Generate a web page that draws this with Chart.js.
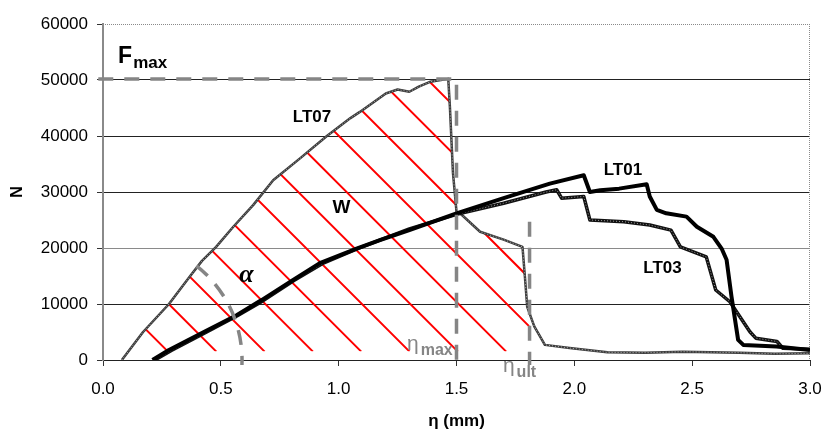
<!DOCTYPE html>
<html>
<head>
<meta charset="utf-8">
<script src="https://cdn.jsdelivr.net/npm/chart.js@4.4.0/dist/chart.umd.min.js"></script>
<style>
  html, body { margin: 0; padding: 0; background: #fff; }
</style>
</head>
<body>
<canvas id="line-chartcanvas" width="824" height="432"></canvas>
<script>
// load / displacement curves, eta in mm and N
var lt07X = [0.08, 0.17, 0.28, 0.37, 0.42, 0.48, 0.553, 0.638, 0.722, 0.836, 0.95, 1.05, 1.09, 1.20, 1.25, 1.30, 1.34, 1.39, 1.465,
             1.472, 1.485, 1.50, 1.515, 1.60, 1.70, 1.78, 1.79, 1.80, 1.83, 1.875, 1.98, 2.14, 2.30, 2.46, 2.70, 2.85, 3.0];
var lt07Y = [0, 5000, 10000, 15000, 17700, 20200, 23800, 27700, 32100, 36000, 40000, 43200, 44300, 47600, 48300, 47900, 48800, 49700, 50200,
             45200, 33400, 26500, 26200, 22900, 21500, 20200, 15000, 9500, 6000, 2700, 2140, 1370, 1300, 1480, 1300, 1100, 1200];

var lt01X = [0.21, 0.28, 0.43, 0.567, 0.673, 0.807, 0.92, 1.076, 1.175, 1.30, 1.50, 1.70, 1.896, 2.04, 2.066, 2.11, 2.19, 2.307,
             2.32, 2.35, 2.39, 2.476, 2.52, 2.59, 2.625, 2.646, 2.667, 2.695, 2.717, 2.858, 3.0];
var lt01Y = [0, 1800, 5060, 8000, 10700, 14300, 17300, 19900, 21400, 23200, 26200, 28900, 31500, 33000, 30000, 30300, 30600, 31400,
             29200, 26800, 26200, 25600, 23800, 22000, 19900, 17900, 11300, 3600, 2700, 2400, 1800];

var lt03X = [0.22, 0.29, 0.44, 0.57, 0.68, 0.81, 0.93, 1.08, 1.18, 1.30, 1.50, 1.70, 1.88, 1.925, 1.946, 2.04, 2.066, 2.21, 2.32,
             2.41, 2.45, 2.56, 2.60, 2.66, 2.745, 2.77, 2.86, 2.885, 3.0];
var lt03Y = [0, 1700, 5000, 7900, 10600, 14200, 17200, 19900, 21500, 23400, 26000, 28000, 30000, 30400, 28900, 29200, 25000, 24700, 24100,
             23200, 20200, 18400, 12500, 10400, 5050, 3900, 3300, 2100, 1900];

// characteristic values
var fmax = 50200;
var etaMax = 1.5;
var etaUlt = 1.81;
var etaUltTop = 24700;
var guideLow = -900;   // dashed guides run a little past the axis
var guideStartX = -0.02;

// axis ticks
var xTicks = [0, 0.5, 1.0, 1.5, 2.0, 2.5, 3.0];
var yTicks = [0, 10000, 20000, 30000, 40000, 50000, 60000];

// hatching of the work area W
var hatchBaseY = 1500;
var hatchStartX = 0.276;
var hatchStepX = 0.205;

function pts(xs, ys) {
	return xs.map(function(x, i) { return { x: x, y: ys[i] }; });
}

var grey = '#858585';
var labelFont = '"Liberation Sans", Arial, sans-serif';

var overlay = {
	id: 'overlay',
	beforeDatasetsDraw: function(chart) {
		var ctx = chart.ctx, xs = chart.scales.x, ys = chart.scales.y, a = chart.chartArea;
		var px = function(v) { return xs.getPixelForValue(v); };
		var py = function(v) { return ys.getPixelForValue(v); };

		// dotted frame on top and right
		ctx.save();
		ctx.strokeStyle = '#8a8a8a';
		ctx.lineWidth = 1;
		ctx.setLineDash([1, 1]);
		ctx.beginPath();
		ctx.moveTo(a.left, Math.round(a.top) + 0.5);
		ctx.lineTo(a.right, Math.round(a.top) + 0.5);
		ctx.moveTo(Math.round(a.right) - 0.5, a.top);
		ctx.lineTo(Math.round(a.right) - 0.5, a.bottom);
		ctx.stroke();
		ctx.restore();

		// red hatch under LT07 up to eta_ult
		var yb = py(hatchBaseY);
		ctx.save();
		ctx.beginPath();
		ctx.moveTo(px(lt07X[0]), py(lt07Y[0]));
		for (var i = 1; i < lt07X.length; i++) {
			if (lt07X[i] >= etaUlt) {
				var t = (etaUlt - lt07X[i - 1]) / (lt07X[i] - lt07X[i - 1]);
				ctx.lineTo(px(etaUlt), py(lt07Y[i - 1] + t * (lt07Y[i] - lt07Y[i - 1])));
				break;
			}
			ctx.lineTo(px(lt07X[i]), py(lt07Y[i]));
		}
		ctx.lineTo(px(etaUlt), yb);
		ctx.lineTo(px(lt07X[0]), yb);
		ctx.closePath();
		ctx.clip();
		ctx.beginPath();
		ctx.rect(a.left, a.top, a.right - a.left, yb - a.top);
		ctx.clip();

		ctx.strokeStyle = '#ff0000';
		ctx.lineWidth = 2;
		var step = px(hatchStepX) - px(0);
		var x0 = px(hatchStartX);
		ctx.beginPath();
		for (var k = -2; k < 20; k++) {
			var bx = x0 + k * step;
			ctx.moveTo(bx, yb);
			ctx.lineTo(bx - 500, yb - 500);
		}
		ctx.stroke();
		ctx.restore();
	},
	afterDatasetsDraw: function(chart) {
		var ctx = chart.ctx, xs = chart.scales.x, ys = chart.scales.y;
		var px = function(v) { return xs.getPixelForValue(v); };
		var py = function(v) { return ys.getPixelForValue(v); };

		// stiffness angle arc around the LT07 start
		var cx = px(lt07X[0]), cy = py(lt07Y[0]);
		var r = px(lt07X[0] + 0.51) - cx;
		ctx.save();
		ctx.strokeStyle = grey;
		ctx.lineWidth = 3.5;
		ctx.setLineDash([15, 11]);
		ctx.beginPath();
		ctx.arc(cx, cy, r, -51.6 * Math.PI / 180, 2.4 * Math.PI / 180);
		ctx.stroke();
		ctx.restore();

		ctx.save();
		ctx.fillStyle = '#000';
		ctx.textBaseline = 'alphabetic';

		// F max
		ctx.textAlign = 'left';
		ctx.font = 'bold 23px ' + labelFont;
		var fx = px(0.064), fy = py(53040);
		ctx.fillText('F', fx, fy);
		var fw = ctx.measureText('F').width;
		ctx.font = 'bold 17px ' + labelFont;
		ctx.fillText('max', fx + fw + 1, fy + 5);

		// curve names
		ctx.textAlign = 'center';
		ctx.font = 'bold 17px ' + labelFont;
		ctx.fillText('LT07', px(0.887), py(42500));
		ctx.fillText('LT01', px(2.206), py(33000));
		ctx.fillText('LT03', px(2.374), py(15540));
		ctx.font = 'bold 19px ' + labelFont;
		ctx.fillText('W', px(1.012), py(26250));
		ctx.font = 'bold italic 26px "Liberation Serif", serif';
		ctx.fillText('α', px(0.609), py(13930));

		// eta labels
		ctx.fillStyle = grey;
		ctx.textAlign = 'left';
		var ex = px(1.29), ey = py(1700);
		ctx.font = '21px ' + labelFont;
		ctx.fillText('η', ex, ey);
		var ew = ctx.measureText('η').width;
		ctx.font = 'bold 16px ' + labelFont;
		ctx.fillText('max', ex + ew + 2, ey + 4.5);

		ex = px(1.697); ey = py(-2230);
		ctx.font = '21px ' + labelFont;
		ctx.fillText('η', ex, ey);
		ctx.font = 'bold 16px ' + labelFont;
		ctx.fillText('ult', ex + ew + 2, ey + 4.5);
		ctx.restore();
	}
};

var data = {
	datasets: [
		{
			// F max and eta max guide
			data: [{ x: guideStartX, y: fmax }, { x: etaMax, y: fmax }, { x: etaMax, y: guideLow }],
			borderColor: grey, borderWidth: 3.5, borderDash: [15, 11], clip: false
		},
		{
			// eta ult guide
			data: [{ x: etaUlt, y: etaUltTop }, { x: etaUlt, y: guideLow }],
			borderColor: grey, borderWidth: 3.5, borderDash: [15, 11], clip: false
		},
		{ label: 'LT01', data: pts(lt01X, lt01Y), borderColor: '#000', borderWidth: 4 },
		{ data: pts(lt03X, lt03Y), borderColor: '#9a9a9a', borderWidth: 1, borderDash: [1, 2] },
		{ label: 'LT03', data: pts(lt03X, lt03Y), borderColor: '#111', borderWidth: 3.5 },
		{ data: pts(lt07X, lt07Y), borderColor: '#d0d0d0', borderWidth: 0.8, borderDash: [1, 2] },
		{ label: 'LT07', data: pts(lt07X, lt07Y), borderColor: '#3c3c3c', borderWidth: 2.5 }
	]
};
data.datasets.forEach(function(d) {
	d.showLine = true;
	d.pointRadius = 0;
	d.tension = 0;
	d.borderJoinStyle = 'round';
	d.fill = false;
});

var options = {
	responsive: false,
	animation: false,
	layout: { padding: { left: 0, right: 0, top: 24, bottom: 0 } },
	plugins: { legend: { display: false }, tooltip: { enabled: false } },
	scales: {
		x: {
			type: 'linear', min: 0, max: 3,
			afterBuildTicks: function(s) { s.ticks = xTicks.map(function(v) { return { value: v }; }); },
			ticks: {
				callback: function(v) { return Number(v).toFixed(1); },
				font: { size: 17, family: labelFont }, color: '#000', padding: 13, maxRotation: 0
			},
			grid: { drawOnChartArea: false, tickLength: 6, color: '#333' },
			border: { color: '#222', width: 1 },
			title: { display: true, text: 'η (mm)', font: { size: 17, weight: 'bold', family: labelFont }, color: '#000', padding: { top: 0, bottom: 0 } },
			afterFit: function(s) {
				s.height = 72;
				s.paddingLeft = 0;
				s.paddingRight = 14;
			}
		},
		y: {
			type: 'linear', min: 0, max: 60000,
			afterBuildTicks: function(s) { s.ticks = yTicks.map(function(v) { return { value: v }; }); },
			ticks: {
				callback: function(v) { return String(v); },
				font: { size: 17, family: labelFont }, color: '#000', padding: 9
			},
			grid: {
				tickLength: 6, tickColor: '#333',
				color: function(c) {
					if (c.tick && c.tick.value === 60000) return 'rgba(0,0,0,0)';
					if (c.tick && c.tick.value === 20000) return '#8a8a8a';
					return '#222';
				}
			},
			border: { color: '#8a8a8a', width: 2 },
			title: { display: true, text: 'N', font: { size: 16, weight: 'bold', family: labelFont }, color: '#000', padding: { top: 8, bottom: 0 } },
			afterFit: function(s) { s.width = 103; }
		}
	}
};

var chart = new Chart(document.getElementById('line-chartcanvas'), {
	type: 'scatter',
	data: data,
	options: options,
	plugins: [overlay]
});
</script>
</body>
</html>
